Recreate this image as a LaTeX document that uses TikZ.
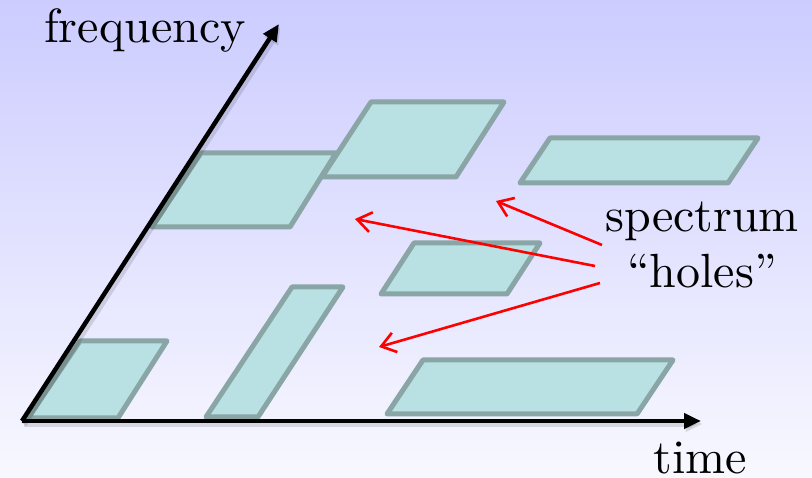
\documentclass[tikz,border=0pt]{standalone}
\usepackage{fontspec}
\setmainfont{lmroman10-regular}[Extension=.otf]
\usetikzlibrary{arrows.meta}
\definecolor{bgtop}{RGB}{204,204,255}
\definecolor{bgbot}{RGB}{248,248,255}
\definecolor{blkfill}{RGB}{185,224,226}
\definecolor{blkdraw}{RGB}{137,165,165}
\definecolor{holered}{RGB}{255,0,0}
\tikzset{
  band/.style={fill=blkfill, draw=blkdraw, line width=5pt, line join=round},
  axis/.style={line width=4.5pt, -{Triangle[length=17pt,width=15pt]}},
  axshadow/.style={line width=7pt, black, opacity=0.12, -{Triangle[length=17pt,width=15pt]}},
  holearrow/.style={holered, line width=2.6pt, -{Straight Barb[length=14pt,width=20pt]}},
  lbl/.style={anchor=base, inner sep=0pt, font=\fontsize{48}{56}\selectfont}
}
\begin{document}
\begin{tikzpicture}[x=1pt,y=-1pt]
\useasboundingbox (0,0) rectangle (812,478);
\shade[top color=bgtop, bottom color=bgbot] (0,0) rectangle (812,478);

% spectrum blocks
\draw[band] (28,418) -- (80,341) -- (167,341) -- (118,418) -- cycle;
\draw[band] (206,417) -- (292,287) -- (343,287) -- (258,417) -- cycle;
\draw[band] (152,227) -- (201,153) -- (336,153) -- (290,227) -- cycle;
\draw[band] (322,177) -- (371,102) -- (504,102) -- (456,177) -- cycle;
\draw[band] (520,183) -- (550,138) -- (758,138) -- (728,183) -- cycle;
\draw[band] (381,294) -- (414,243) -- (540,243) -- (507,294) -- cycle;
\draw[band] (387,414) -- (423,360) -- (673,360) -- (637,414) -- cycle;

% axes
\coordinate (o) at (22,421);
\coordinate (tend) at (701,421);
\coordinate (fend) at (279,24);
\draw[axshadow] ([shift={(1.5,3)}]o) -- ([shift={(1.5,3)}]tend);
\draw[axshadow] ([shift={(1.5,3)}]o) -- ([shift={(1.5,3)}]fend);
\draw[axis] (o) -- (tend);
\draw[axis] (o) -- (fend);

% labels
\node[lbl] (freq) at (145,43) {frequency};
\node[lbl] (time) at (700,473) {time};
\node[lbl] (spec) at (702,232) {spectrum};
\node[lbl] (holes) at (702,288) {“holes”};

% hole pointers
\coordinate (t1) at (602,245);
\coordinate (t2) at (595,266);
\coordinate (t3) at (600,283);
\coordinate (h1) at (496,201);
\coordinate (h2) at (355,219);
\coordinate (h3) at (379,347);
\draw[holearrow] (t1) -- (h1);
\draw[holearrow] (t2) -- (h2);
\draw[holearrow] (t3) -- (h3);
\end{tikzpicture}
\end{document}
